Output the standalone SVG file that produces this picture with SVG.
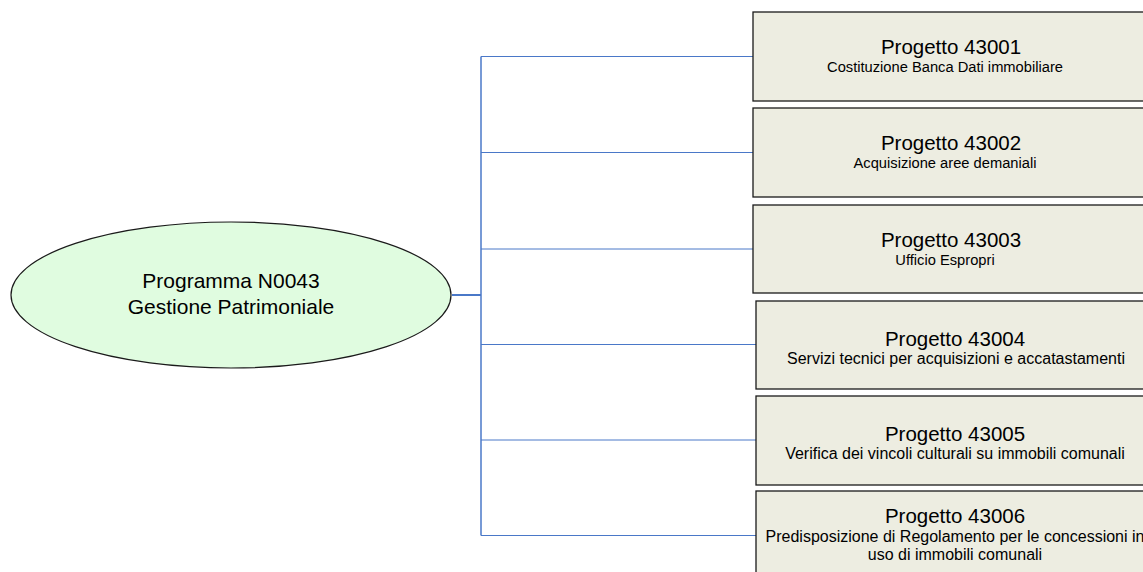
<svg xmlns="http://www.w3.org/2000/svg" width="1143" height="572" viewBox="0 0 1143 572">
<style>
.box{fill:#EDEDE1;stroke:#1a1a1a;stroke-width:1.3}
.t{font-family:"Liberation Sans",Arial,sans-serif;fill:#000;text-anchor:middle}
.h{font-size:20.5px}
.s{font-size:14.7px}
.s2{font-size:16px}
.e{font-size:21px}
.c{stroke:#4A78C8;fill:none}
</style>
<rect width="1143" height="572" fill="#fff"/>
<g id="connectors">
<line class="c" x1="452" y1="295" x2="481" y2="295" stroke-width="2"/>
<line class="c" x1="481" y1="56.5" x2="481" y2="535.5" stroke-width="1.5"/>
<line class="c" x1="481" y1="56.5" x2="753" y2="56.5" stroke-width="1"/>
<line class="c" x1="481" y1="152.5" x2="753" y2="152.5" stroke-width="1"/>
<line class="c" x1="481" y1="249" x2="753" y2="249" stroke-width="1"/>
<line class="c" x1="481" y1="344.5" x2="756" y2="344.5" stroke-width="1"/>
<line class="c" x1="481" y1="440" x2="756" y2="440" stroke-width="1"/>
<line class="c" x1="481" y1="535.5" x2="756" y2="535.5" stroke-width="1"/>
</g>
<g id="programma">
<ellipse cx="231" cy="295" rx="220" ry="73" fill="#E0FCE0" stroke="#1a1a1a" stroke-width="1.2"/>
<text class="t e" x="231" y="288">Programma N0043</text>
<text class="t e" x="231" y="314">Gestione Patrimoniale</text>
</g>
<g id="p43001">
<rect class="box" x="753" y="12" width="420" height="89"/>
<text class="t h" x="951" y="54">Progetto 43001</text>
<text class="t s" x="945" y="72">Costituzione Banca Dati immobiliare</text>
</g>
<g id="p43002">
<rect class="box" x="753" y="108" width="420" height="89"/>
<text class="t h" x="951" y="150">Progetto 43002</text>
<text class="t s" x="945" y="168">Acquisizione aree demaniali</text>
</g>
<g id="p43003">
<rect class="box" x="753" y="205" width="420" height="88"/>
<text class="t h" x="951" y="247">Progetto 43003</text>
<text class="t s" x="945" y="265">Ufficio Espropri</text>
</g>
<g id="p43004">
<rect class="box" x="756" y="301" width="420" height="88"/>
<text class="t h" x="955" y="346">Progetto 43004</text>
<text class="t s2" x="956" y="364">Servizi tecnici per acquisizioni e accatastamenti</text>
</g>
<g id="p43005">
<rect class="box" x="756" y="396" width="420" height="89"/>
<text class="t h" x="955" y="441">Progetto 43005</text>
<text class="t s2" x="955" y="459">Verifica dei vincoli culturali su immobili comunali</text>
</g>
<g id="p43006">
<rect class="box" x="756" y="491" width="420" height="89"/>
<text class="t h" x="955" y="523">Progetto 43006</text>
<text class="t s2" x="955" y="542">Predisposizione di Regolamento per le concessioni in</text>
<text class="t s2" x="955" y="560">uso di immobili comunali</text>
</g>
</svg>
